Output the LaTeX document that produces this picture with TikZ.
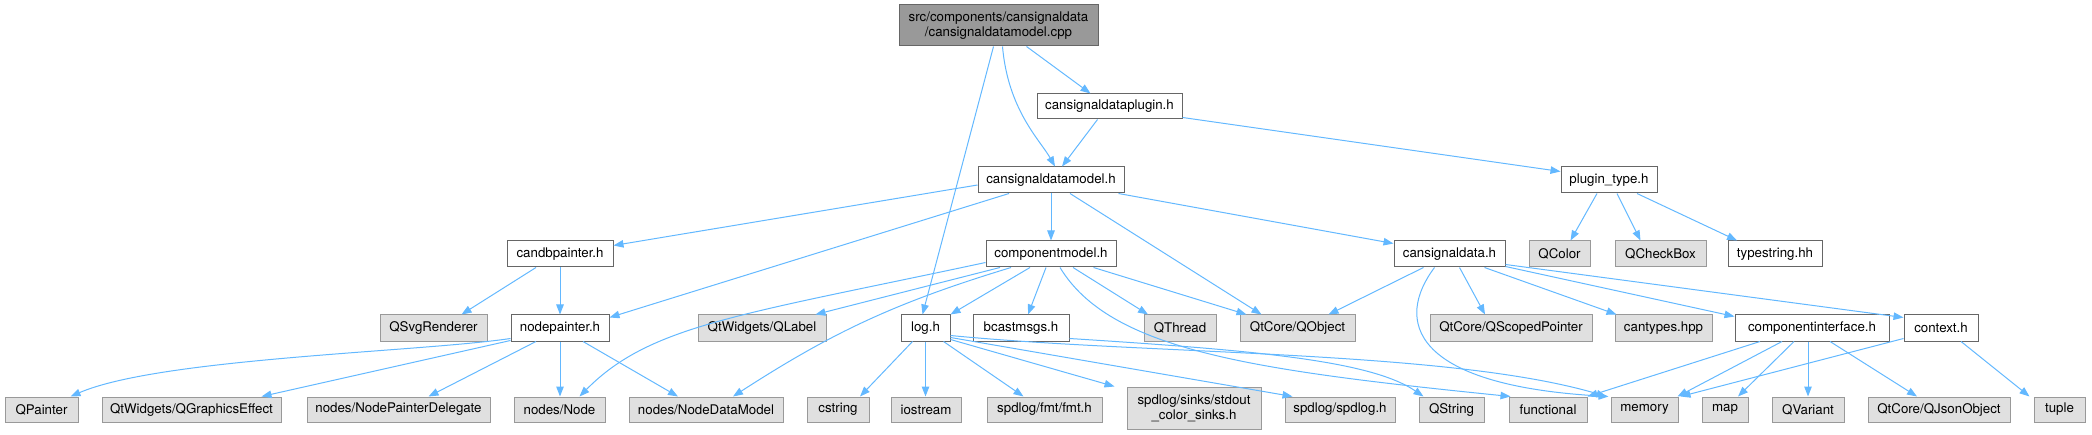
\documentclass[tikz,border=0pt]{standalone}
\usepackage{fontspec}
\setmainfont{TeX Gyre Heros}
\usetikzlibrary{arrows.meta}
\definecolor{edgeblue}{HTML}{63B8FF}
\definecolor{sysfill}{HTML}{E0E0E0}
\definecolor{sysline}{HTML}{999999}
\definecolor{hdrline}{HTML}{666666}
\begin{document}
\begin{tikzpicture}[x=1pt,y=-1pt,
  hdr/.style={draw=hdrline,fill=white,line width=1pt,inner sep=0pt,minimum height=26pt,font=\fontsize{13.3}{15}\selectfont},
  sys/.style={draw=sysline,fill=sysfill,line width=1pt,inner sep=0pt,minimum height=25pt,font=\fontsize{13.3}{15}\selectfont},
  rootbox/.style={draw=hdrline,fill=sysline,line width=1pt,inner sep=0pt,minimum height=41pt,align=center,font=\fontsize{13.3}{15.5}\selectfont},
  inc/.style={draw=edgeblue,line width=1pt,-{Triangle[length=10pt,width=7.5pt]}}]
  \useasboundingbox (0,0) rectangle (2092,435);
  % rows of boxes
  \node[rootbox,minimum width=199pt] (root) at (998.5,25.5) {src/components/cansignaldata\\/cansignaldatamodel.cpp};
  \node[hdr,minimum width=145pt,minimum height=25pt] (plugin) at (1109.5,106.5) {cansignaldataplugin.h};
  \node[hdr,minimum width=146pt] (model) at (1051,180) {cansignaldatamodel.h};
  \node[hdr,minimum width=96pt] (ptype) at (1609,180) {plugin\_type.h};
  \node[hdr,minimum width=106pt] (candb) at (560,254) {candbpainter.h};
  \node[hdr,minimum width=130pt] (cmodel) at (1051,254) {componentmodel.h};
  \node[hdr,minimum width=111pt] (csdata) at (1449.5,254) {cansignaldata.h};
  \node[sys,minimum width=61pt,minimum height=26pt] (qcolor) at (1559.5,254) {QColor};
  \node[sys,minimum width=91pt,minimum height=26pt] (qcheck) at (1660.5,254) {QCheckBox};
  \node[hdr,minimum width=94pt] (tstring) at (1775,254) {typestring.hh};
  \node[sys,minimum width=107pt,minimum height=26pt] (qsvg) at (433.5,328) {QSvgRenderer};
  \node[hdr,minimum width=98pt] (npaint) at (560,328) {nodepainter.h};
  \node[sys,minimum width=128pt,minimum height=26pt] (qlabel) at (762,328) {QtWidgets/QLabel};
  \node[hdr,minimum width=49pt] (logh) at (925.5,328) {log.h};
  \node[hdr,minimum width=96pt] (bcast) at (1021,328) {bcastmsgs.h};
  \node[sys,minimum width=72pt,minimum height=26pt] (qthread) at (1180,328) {QThread};
  \node[sys,minimum width=115pt,minimum height=26pt] (qobject) at (1297.5,328) {QtCore/QObject};
  \node[sys,minimum width=162pt,minimum height=26pt] (qscoped) at (1511,328) {QtCore/QScopedPointer};
  \node[sys,minimum width=97pt,minimum height=26pt] (cantypes) at (1663.5,328) {cantypes.hpp};
  \node[hdr,minimum width=154pt] (cinterf) at (1812,328) {componentinterface.h};
  \node[hdr,minimum width=74pt] (ctx) at (1941,328) {context.h};
  \node[sys,minimum width=73pt] (qpainter) at (41.5,409.5) {QPainter};
  \node[sys,minimum width=179pt] (qgfx) at (191.5,409.5) {QtWidgets/QGraphicsEffect};
  \node[sys,minimum width=183pt] (npdel) at (398.5,409.5) {nodes/NodePainterDelegate};
  \node[sys,minimum width=91pt] (nnode) at (559.5,409.5) {nodes/Node};
  \node[sys,minimum width=154pt] (nmodel) at (706,409.5) {nodes/NodeDataModel};
  \node[sys,minimum width=62pt] (cstring) at (838,409.5) {cstring};
  \node[sys,minimum width=70pt] (iostream) at (926,409.5) {iostream};
  \node[sys,minimum width=115pt] (spdfmt) at (1044.5,409.5) {spdlog/fmt/fmt.h};
  \node[sys,minimum width=134pt,minimum height=42pt,align=center] (stdout) at (1194,408) {spdlog/sinks/stdout\\\_color\_sinks.h};
  \node[sys,minimum width=110pt] (spdlog) at (1340,409.5) {spdlog/spdlog.h};
  \node[sys,minimum width=65pt] (qstring) at (1451.5,409.5) {QString};
  \node[sys,minimum width=78pt] (functional) at (1548,409.5) {functional};
  \node[sys,minimum width=67pt] (memory) at (1644.5,409.5) {memory};
  \node[sys,minimum width=46pt] (map) at (1725,409.5) {map};
  \node[sys,minimum width=72pt] (qvariant) at (1808,409.5) {QVariant};
  \node[sys,minimum width=142pt] (qjson) at (1939,409.5) {QtCore/QJsonObject};
  \node[sys,minimum width=51pt] (tuple) at (2059.5,409.5) {tuple};
  % includes
  \draw[inc] ([xshift=28pt]root.south) -- ([xshift=-19pt]plugin.north);
  \draw[inc] ([xshift=4pt]root.south) .. controls (1008,110) and (1040,140) .. ([xshift=4pt]model.north);
  \draw[inc] ([xshift=-5pt]root.south) -- ([xshift=-3pt]logh.north);
  \draw[inc] ([xshift=-12pt]plugin.south) -- ([xshift=11pt]model.north);
  \draw[inc] ([yshift=2pt]plugin.south east) -- ([yshift=-5pt]ptype.north west);
  \draw[inc] ([yshift=-5pt]model.west) -- ([yshift=-5pt]candb.north east);
  \draw[inc] ([xshift=-42pt]model.south) -- ([yshift=-3pt]npaint.north east);
  \draw[inc] (model) -- (cmodel);
  \draw[inc] ([xshift=19pt]model.south) -- ([xshift=-36pt]qobject.north);
  \draw[inc] ([xshift=-6pt]model.south east) -- ([yshift=-3pt]csdata.north west);
  \draw[inc] ([xshift=-12pt]ptype.south) -- ([xshift=11pt]qcolor.north);
  \draw[inc] ([xshift=8pt]ptype.south) -- ([xshift=-20pt]qcheck.north);
  \draw[inc] ([xshift=28pt]ptype.south) -- ([xshift=-38pt]tstring.north);
  \draw[inc] ([xshift=-24pt]candb.south) -- ([xshift=28pt]qsvg.north);
  \draw[inc] (candb) -- (npaint);
  \draw[inc] ([yshift=5pt]cmodel.south west) .. controls (740,315) and (650,325) .. ([xshift=20pt]nnode.north);
  \draw[inc] ([xshift=-51pt]cmodel.south) -- ([xshift=-11pt]qlabel.north east);
  \draw[inc] ([xshift=-21pt]cmodel.south) -- (logh.north east);
  \draw[inc] ([xshift=-5pt]cmodel.south) -- ([xshift=7pt]bcast.north);
  \draw[inc] ([xshift=-40pt]cmodel.south) to[bend right=8] ([xshift=27pt]nmodel.north);
  \draw[inc] ([xshift=22pt]cmodel.south) -- ([xshift=-32pt]qthread.north);
  \draw[inc] ([xshift=-23pt]cmodel.south east) -- ([xshift=7pt]qobject.north west);
  \draw[inc] ([xshift=9pt]cmodel.south) .. controls (1110,350) and (1250,370) .. ([xshift=2pt]functional.north west);
  \draw[inc] ([yshift=3pt]npaint.south west) .. controls (420,352) and (160,358) .. ([xshift=-8pt]qpainter.north east);
  \draw[inc] ([yshift=1pt]npaint.south west) -- ([xshift=-20pt]qgfx.north east);
  \draw[inc] ([xshift=-24pt]npaint.south) -- ([xshift=30pt]npdel.north);
  \draw[inc] (npaint.south) -- (npaint.south |- nnode.north);
  \draw[inc] ([xshift=23pt]npaint.south) -- ([xshift=-28pt]nmodel.north);
  \draw[inc] ([xshift=-13pt]logh.south) -- ([xshift=22pt]cstring.north);
  \draw[inc] (logh.south) -- (logh.south |- iostream.north);
  \draw[inc] ([xshift=18pt]logh.south) -- ([xshift=-21pt]spdfmt.north);
  \draw[inc] ([yshift=2pt]logh.south east) -- ([xshift=-12pt]stdout.north west);
  \draw[inc] ([yshift=4pt]logh.south east) -- ([xshift=8pt]spdlog.north west);
  \draw[inc] ([yshift=6pt]logh.south east) .. controls (1150,355) and (1450,350) .. ([xshift=-4pt]memory.north west);
  \draw[inc] ([yshift=3pt]bcast.south east) .. controls (1250,350) and (1370,360) .. ([xshift=-28pt]qstring.north);
  \draw[inc] ([xshift=-26pt]csdata.south) -- ([xshift=-27pt]qobject.north east);
  \draw[inc] ([xshift=-15pt]csdata.south) .. controls (1395,320) and (1410,385) .. ([xshift=-2pt]memory.north west);
  \draw[inc] ([xshift=10pt]csdata.south) -- ([xshift=-26pt]qscoped.north);
  \draw[inc] ([xshift=35pt]csdata.south) -- ([xshift=2pt]cantypes.north west);
  \draw[inc] ([yshift=1pt]csdata.south east) -- ([yshift=-2pt]cinterf.north west);
  \draw[inc] ([yshift=3pt]csdata.south east) -- ([yshift=-3pt]ctx.north west);
  \draw[inc] ([xshift=-52pt]cinterf.south) -- (functional.north east);
  \draw[inc] ([xshift=-30pt]cinterf.south) -- ([xshift=-1pt]memory.north east);
  \draw[inc] ([xshift=-18pt]cinterf.south) -- ([xshift=13pt]map.north);
  \draw[inc] ([xshift=-4pt]cinterf.south) -- (qvariant.north);
  \draw[inc] ([xshift=18pt]cinterf.south) -- ([xshift=-22pt]qjson.north);
  \draw[inc] ([yshift=3pt]ctx.south west) -- ([xshift=2pt]memory.north east);
  \draw[inc] ([xshift=20pt]ctx.south) -- ([xshift=-30pt]tuple.north);
\end{tikzpicture}
\end{document}
